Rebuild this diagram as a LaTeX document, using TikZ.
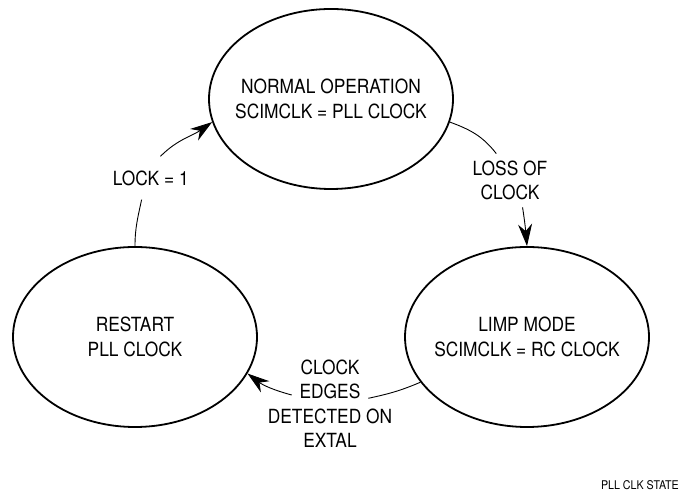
\documentclass[tikz,border=0pt]{standalone}
\usepackage{fontspec}
\setmainfont{TeX Gyre Heros}[FakeStretch=0.89]
\usetikzlibrary{shapes.geometric,arrows.meta}

\begin{document}
\begin{tikzpicture}[x=1bp, y=1bp,
		zustand/.style={ellipse, draw, line width=1.8bp, minimum width=244bp, minimum height=180bp, inner xsep=-25bp, inner ysep=0pt, align=center, font=\fontsize{19.5bp}{24.5bp}\selectfont},
		bedingung/.style={inner xsep=2bp, inner ysep=7bp, align=center, font=\fontsize{19.5bp}{24.5bp}\selectfont},
		uebergang/.style={line width=0.9bp, -{Stealth[length=22bp, width=14bp, inset=7bp]}}]
		
		%Rahmen
		\useasboundingbox (0,0) rectangle (680,501);
		
		%Zustaende
		\node [zustand] (N) at (331,402) {NORMAL OPERATION\\SCIMCLK = PLL CLOCK};
		\node [zustand] (L) at (527,164) {LIMP MODE\\SCIMCLK = RC CLOCK};
		\node [zustand] (R) at (135,164) {RESTART\\PLL CLOCK};
		
		%Bedingungen
		\node [bedingung, inner ysep=14bp] (T1) at (150.8,323) {LOCK = 1};
		\node [bedingung] (T2) at (510,320.5) {LOSS OF\\CLOCK};
		\node [bedingung] (T3) at (330,97.5) {CLOCK\\EDGES\\DETECTED ON\\EXTAL};
		\coordinate (E1) at (368.3,102.7);
		\coordinate (E2) at (291.7,106);
		
		%Uebergaenge
		\draw [uebergang] (R.north) to[out=90, in=-102] (T1.-113) (T1.66) to[out=45, in=-145] (N.191);
		\draw [uebergang] (N.-11) to[out=-20, in=128] (T2.117) (T2.-65) to[out=-81, in=95] (L.north);
		\draw [uebergang] (L.-157) to[out=203, in=12] (E1) (E2) to[out=165, in=-37] (R.-18);
		
		%Bildnummer
		\node [anchor=base east, inner sep=0pt, font=\fontsize{12bp}{14bp}\selectfont] (K) at (679,11) {PLL CLK STATE};
\end{tikzpicture}
\end{document}
